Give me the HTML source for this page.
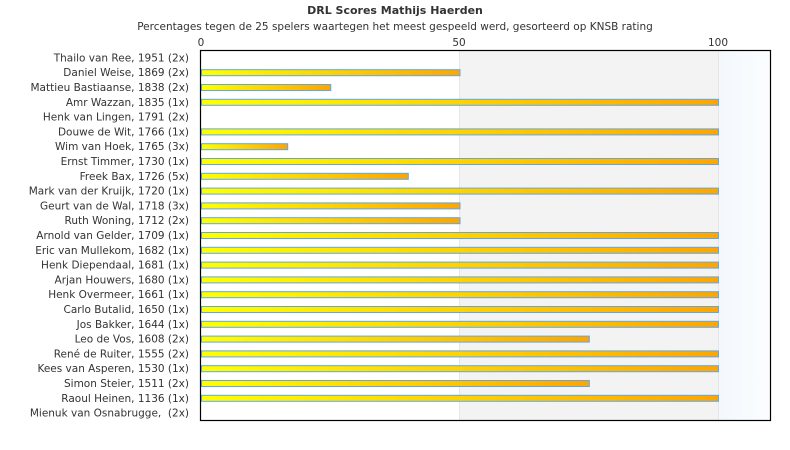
<!DOCTYPE html>
<html><head><meta charset="utf-8"><style>
body{margin:0;background:#fff;}
svg{display:block;font-family:"DejaVu Sans","Liberation Sans",sans-serif;}
</style></head><body>
<svg width="790" height="450" viewBox="0 0 790 450">
<defs>
<linearGradient id="g" x1="0" x2="1" y1="0" y2="0"><stop offset="0" stop-color="#ffff00"/><stop offset="1" stop-color="#ffa500"/></linearGradient>
<linearGradient id="bg" x1="0" x2="1"><stop offset="0" stop-color="#f3f8fd"/><stop offset="1" stop-color="#fbfdff"/></linearGradient>
</defs>
<text x="395" y="14" text-anchor="middle" font-size="11" font-weight="bold" fill="#333">DRL Scores Mathijs Haerden</text>
<text x="395" y="30" text-anchor="middle" font-size="10.5" fill="#333">Percentages tegen de 25 spelers waartegen het meest gespeeld werd, gesorteerd op KNSB rating</text>
<rect x="459.5" y="50" width="258.5" height="370" fill="#f3f3f3"/>
<rect x="718" y="50" width="52" height="370" fill="url(#bg)"/>
<line x1="459.5" y1="50" x2="459.5" y2="420" stroke="#e6e6e6"/>
<line x1="718.5" y1="50" x2="718.5" y2="420" stroke="#e6e6e6"/>
<g font-size="10.5" fill="#333" text-anchor="middle">
<text x="201" y="46">0</text><text x="459" y="46">50</text><text x="718" y="46">100</text>
</g>
<g fill="url(#g)" stroke="#5fa8e8" stroke-width="1">
<rect x="201.5" y="69.7" width="258.5" height="6"/>
<rect x="201.5" y="84.5" width="129.3" height="6"/>
<rect x="201.5" y="99.3" width="517" height="6"/>
<rect x="201.5" y="128.9" width="517" height="6"/>
<rect x="201.5" y="143.7" width="86.2" height="6"/>
<rect x="201.5" y="158.5" width="517" height="6"/>
<rect x="201.5" y="173.3" width="206.8" height="6"/>
<rect x="201.5" y="188.1" width="517" height="6"/>
<rect x="201.5" y="202.9" width="258.5" height="6"/>
<rect x="201.5" y="217.7" width="258.5" height="6"/>
<rect x="201.5" y="232.5" width="517" height="6"/>
<rect x="201.5" y="247.3" width="517" height="6"/>
<rect x="201.5" y="262.1" width="517" height="6"/>
<rect x="201.5" y="276.9" width="517" height="6"/>
<rect x="201.5" y="291.7" width="517" height="6"/>
<rect x="201.5" y="306.5" width="517" height="6"/>
<rect x="201.5" y="321.3" width="517" height="6"/>
<rect x="201.5" y="336.1" width="387.8" height="6"/>
<rect x="201.5" y="350.9" width="517" height="6"/>
<rect x="201.5" y="365.7" width="517" height="6"/>
<rect x="201.5" y="380.5" width="387.8" height="6"/>
<rect x="201.5" y="395.3" width="517" height="6"/>
</g>
<rect x="200.5" y="50.5" width="570" height="370" fill="none" stroke="#000" stroke-width="1.2"/>
<g font-size="10.5" fill="#333" text-anchor="end">
<text x="189" y="61.4">Thailo van Ree, 1951 (2x)</text>
<text x="189" y="76.2">Daniel Weise, 1869 (2x)</text>
<text x="189" y="91.0">Mattieu Bastiaanse, 1838 (2x)</text>
<text x="189" y="105.8">Amr Wazzan, 1835 (1x)</text>
<text x="189" y="120.6">Henk van Lingen, 1791 (2x)</text>
<text x="189" y="135.4">Douwe de Wit, 1766 (1x)</text>
<text x="189" y="150.2">Wim van Hoek, 1765 (3x)</text>
<text x="189" y="165.0">Ernst Timmer, 1730 (1x)</text>
<text x="189" y="179.8">Freek Bax, 1726 (5x)</text>
<text x="189" y="194.6">Mark van der Kruijk, 1720 (1x)</text>
<text x="189" y="209.4">Geurt van de Wal, 1718 (3x)</text>
<text x="189" y="224.2">Ruth Woning, 1712 (2x)</text>
<text x="189" y="239.0">Arnold van Gelder, 1709 (1x)</text>
<text x="189" y="253.8">Eric van Mullekom, 1682 (1x)</text>
<text x="189" y="268.6">Henk Diependaal, 1681 (1x)</text>
<text x="189" y="283.4">Arjan Houwers, 1680 (1x)</text>
<text x="189" y="298.2">Henk Overmeer, 1661 (1x)</text>
<text x="189" y="313.0">Carlo Butalid, 1650 (1x)</text>
<text x="189" y="327.8">Jos Bakker, 1644 (1x)</text>
<text x="189" y="342.6">Leo de Vos, 1608 (2x)</text>
<text x="189" y="357.4">René de Ruiter, 1555 (2x)</text>
<text x="189" y="372.2">Kees van Asperen, 1530 (1x)</text>
<text x="189" y="387.0">Simon Steier, 1511 (2x)</text>
<text x="189" y="401.8">Raoul Heinen, 1136 (1x)</text>
<text x="189" y="416.6" xml:space="preserve">Mienuk van Osnabrugge,  (2x)</text>
</g>
</svg>
</body></html>
